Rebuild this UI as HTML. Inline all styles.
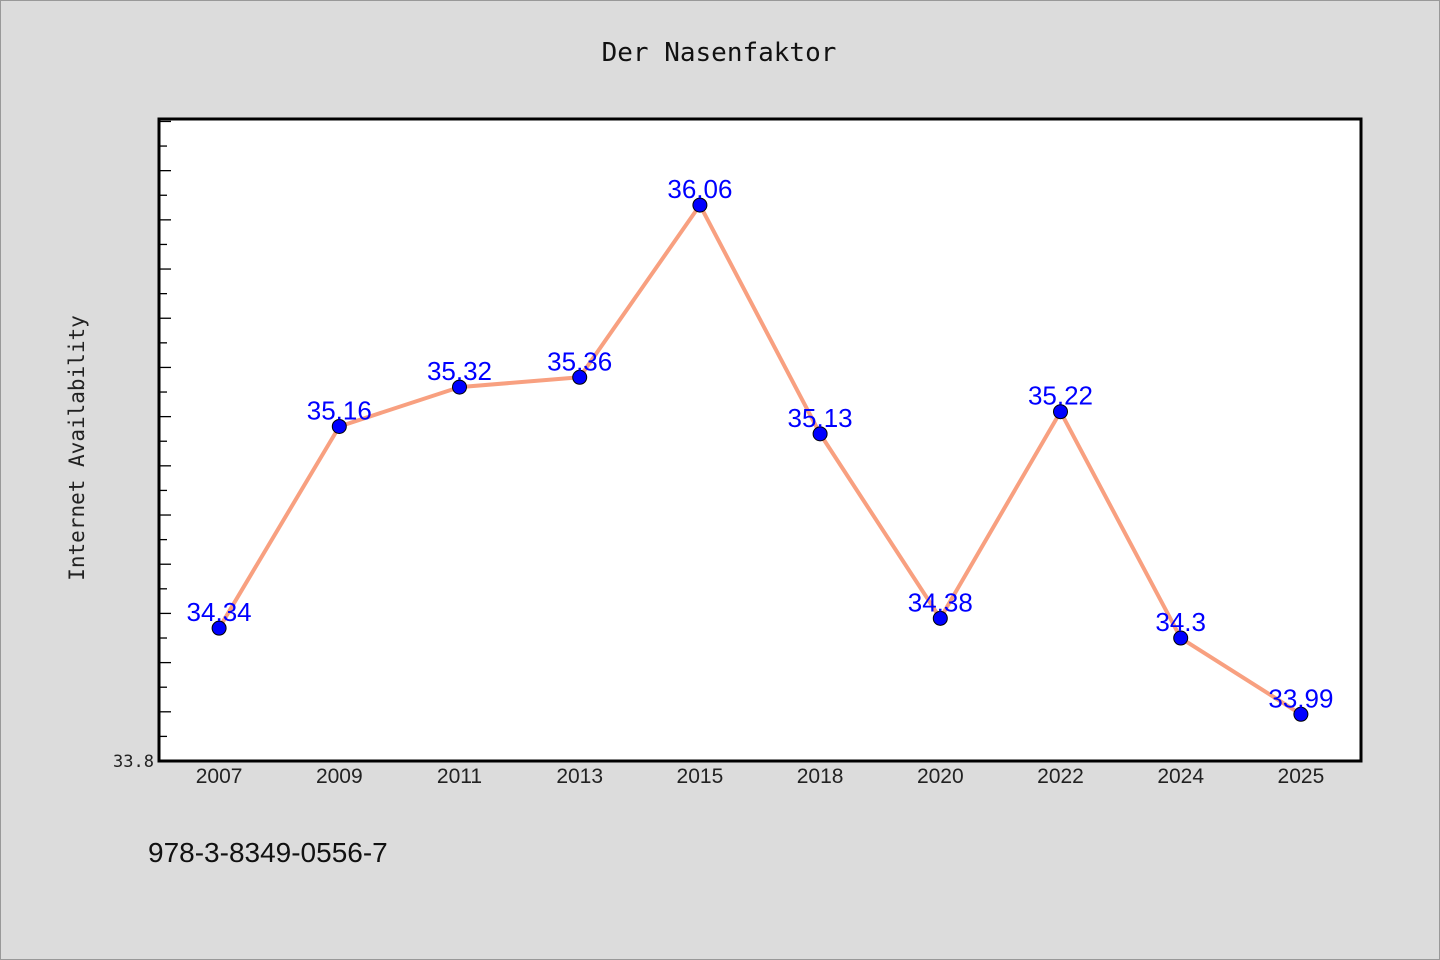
<!DOCTYPE html>
<html><head><meta charset="utf-8"><style>
html,body{margin:0;padding:0;background:#dcdcdc;}
svg{display:block;}
</style></head><body>
<svg width="1440" height="960" viewBox="0 0 1440 960">
<rect x="0.5" y="0.5" width="1439" height="959" fill="#dcdcdc" stroke="#999"/>
<text x="719" y="61" text-anchor="middle" font-family="'DejaVu Sans Mono','WenQuanYi Zen Hei',monospace" font-size="26" fill="#111">Der Nasenfaktor</text>
<rect x="159" y="119" width="1202" height="642" fill="#fff" stroke="#000" stroke-width="3"/>
<g id="ticks"></g>
<g id="xlabels"></g>
<g id="series"></g>
<text transform="translate(84,448) rotate(-90)" text-anchor="middle" font-family="'DejaVu Sans Mono','WenQuanYi Zen Hei',monospace" font-size="21" fill="#222">Internet Availability</text>
<text x="154" y="767" text-anchor="end" font-family="'DejaVu Sans Mono',monospace" font-size="17" fill="#222">33.8</text>
<text x="148" y="862" font-family="'Liberation Sans','WenQuanYi Zen Hei',sans-serif" font-size="28" fill="#111">978-3-8349-0556-7</text>
</svg>
<script>
const categories=["2007","2009","2011","2013","2015","2018","2020","2022","2024","2025"];
const values=[34.34,35.16,35.32,35.36,36.06,35.13,34.38,35.22,34.3,33.99];
const labels=["34.34","35.16","35.32","35.36","36.06","35.13","34.38","35.22","34.3","33.99"];
const yMin=33.8, yMax=36.41;
const L=159,R=1361,T=119,B=761;
const NS="http://www.w3.org/2000/svg";
function xs(i){return L+(R-L)/categories.length*(i+0.5);}
function ys(v){return B-(v-yMin)/(yMax-yMin)*(B-T);}
function mk(t,a,p){const e=document.createElementNS(NS,t);for(const k in a)e.setAttribute(k,a[k]);p.appendChild(e);return e;}
const tg=document.getElementById('ticks');
for(let k=1;;k++){const v=yMin+k*0.1;if(v>yMax)break;const y=ys(v);
 const ln=mk('line',{x1:L,x2:L+(k%2==0?12:8),y1:y,y2:y,stroke:'#000','stroke-width':1.3},tg);
 
 }
const xg=document.getElementById('xlabels');
categories.forEach((c,i)=>{const t=mk('text',{x:xs(i),y:783,'text-anchor':'middle','font-family':"'Liberation Sans',sans-serif",'font-size':21,fill:'#222'},xg);t.textContent=c;
 
 });
const sg=document.getElementById('series');
const pts=values.map((v,i)=>xs(i)+','+ys(v)).join(' ');
const pl=mk('polyline',{points:pts,fill:'none',stroke:'#f8a080','stroke-width':4,'stroke-linejoin':'round'},sg);


values.forEach((v,i)=>{const c=mk('circle',{cx:xs(i),cy:ys(v),r:7,fill:'#0000ff',stroke:'#000','stroke-width':1},sg);
 
 
 const t=mk('text',{x:xs(i),y:ys(v)-7,'text-anchor':'middle','font-family':"'Liberation Sans',sans-serif",'font-size':26,fill:'#0000ff'},sg);t.textContent=labels[i];
 
 });
</script>
</body></html>
